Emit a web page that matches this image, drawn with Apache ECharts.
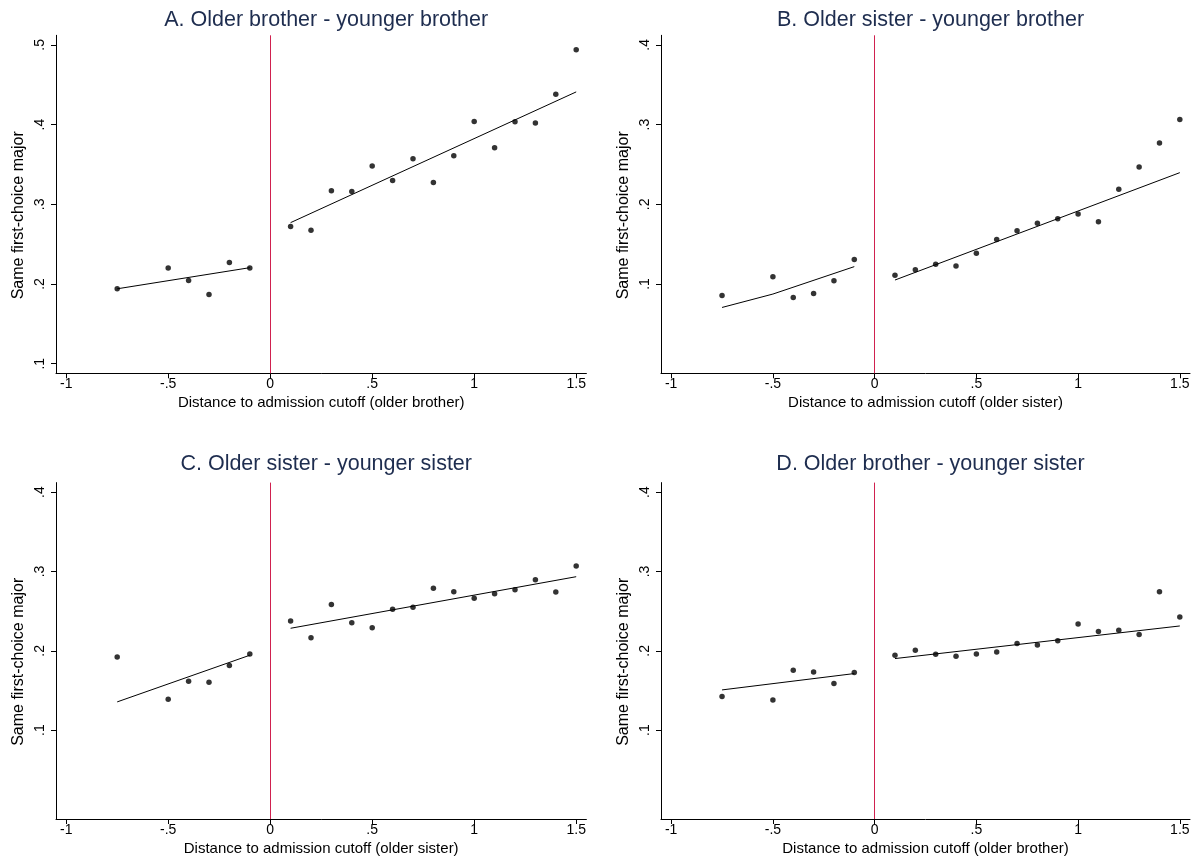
<!DOCTYPE html>
<html>
<head>
<meta charset="utf-8">
<script src="https://cdn.jsdelivr.net/npm/echarts@6/dist/echarts.min.js"></script>
<style>
html,body{margin:0;padding:0;background:#fff;}
#chart{width:1196px;height:857px;}
</style>
</head>
<body>
<div id="chart"></div>
<script>
// ---- data ----
const panelTitles = [
  'A. Older brother - younger brother',
  'B. Older sister - younger brother',
  'C. Older sister - younger sister',
  'D. Older brother - younger sister'
];
const xAxisTitles = [
  'Distance to admission cutoff (older brother)',
  'Distance to admission cutoff (older sister)',
  'Distance to admission cutoff (older sister)',
  'Distance to admission cutoff (older brother)'
];
const yAxisTitle = 'Same first-choice major';

const binX = [-0.75, -0.5, -0.4, -0.3, -0.2, -0.1, 0.1, 0.2, 0.3, 0.4, 0.5, 0.6, 0.7, 0.8, 0.9, 1.0, 1.1, 1.2, 1.3, 1.4, 1.5];

const meansA = [0.194, 0.220, 0.2045, 0.187, 0.227, 0.220, 0.272, 0.2675, 0.317, 0.316, 0.348, 0.330, 0.357, 0.3275, 0.361, 0.404, 0.371, 0.4035, 0.402, 0.438, 0.494];
const meansB = [0.0857, 0.109, 0.083, 0.088, 0.104, 0.1306, 0.111, 0.118, 0.1247, 0.1226, 0.1386, 0.156, 0.1667, 0.1763, 0.182, 0.1877, 0.178, 0.219, 0.2468, 0.277, 0.3064];
const meansC = [0.1923, 0.139, 0.1616, 0.1604, 0.1814, 0.196, 0.2376, 0.2166, 0.2582, 0.2355, 0.2292, 0.2523, 0.2548, 0.2787, 0.2745, 0.2661, 0.272, 0.277, 0.2896, 0.2741, 0.3068];
const meansD = [0.1423, 0.1381, 0.1755, 0.1734, 0.1587, 0.1726, 0.1944, 0.2007, 0.1956, 0.1931, 0.196, 0.1986, 0.2091, 0.2074, 0.2128, 0.2338, 0.2242, 0.2259, 0.2204, 0.2745, 0.2426];

// fitted lines: [x, y]
const fitLeftA  = [[-0.75, 0.194], [-0.1, 0.2205]];
const fitRightA = [[0.1, 0.277], [1.5, 0.441]];
const fitLeftB  = [[-0.75, 0.0706], [-0.5, 0.0874], [-0.1, 0.1218]];
const fitRightB = [[0.1, 0.105], [1.5, 0.2397]];
const fitLeftC  = [[-0.75, 0.1356], [-0.1, 0.1944]];
const fitRightC = [[0.1, 0.2284], [1.5, 0.2934]];
const fitLeftD  = [[-0.75, 0.1507], [-0.1, 0.1713]];
const fitRightD = [[0.1, 0.1902], [1.5, 0.2313]];

const cutoff = 0;

const xTickValues = [-1, -0.5, 0, 0.5, 1, 1.5];
const xTickLabels = ['-1', '-.5', '0', '.5', '1', '1.5'];
const yTickValuesA = [0.1, 0.2, 0.3, 0.4, 0.5];
const yTickLabelsA = ['.1', '.2', '.3', '.4', '.5'];
const yTickValuesB = [0.1, 0.2, 0.3, 0.4];
const yTickLabelsB = ['.1', '.2', '.3', '.4'];

// ---- layout ----
const FONT = '"Liberation Sans", Arial, sans-serif';
const grids = [
  {left: 56,  top: 35.3,  width: 530.4, height: 338},
  {left: 661, top: 35.3,  width: 529,   height: 338},
  {left: 56,  top: 482.6, width: 530.4, height: 337},
  {left: 661, top: 482.6, width: 529,   height: 337}
];
const titleTops = [4, 4, 448, 448];
const yRanges = [[0.088, 0.512], [-0.012, 0.412], [-0.012, 0.412], [-0.012, 0.412]];
const means = [meansA, meansB, meansC, meansD];
const fitsL = [fitLeftA, fitLeftB, fitLeftC, fitLeftD];
const fitsR = [fitRightA, fitRightB, fitRightC, fitRightD];
const yTickVals = [yTickValuesA, yTickValuesB, yTickValuesB, yTickValuesB];
const yTickLabs = [yTickLabelsA, yTickLabelsB, yTickLabelsB, yTickLabelsB];

function labelMap(vals, labs) {
  return function (v) {
    for (let i = 0; i < vals.length; i++) if (Math.abs(vals[i] - v) < 1e-9) return labs[i];
    return '';
  };
}

const axisLineStyle = {color: '#000', width: 1};
const option = {
  backgroundColor: '#fff',
  animation: false,
  title: grids.map((g, i) => ({
    text: panelTitles[i],
    left: g.left + g.width / 2,
    top: titleTops[i],
    textAlign: 'center',
    textStyle: {fontFamily: FONT, fontSize: 21.5, fontWeight: 'normal', color: '#1e2d4f'}
  })),
  grid: grids.map(g => Object.assign({containLabel: false}, g)),
  xAxis: grids.map((g, i) => ({
    type: 'value', gridIndex: i, min: -1.05, max: 1.55,
    name: xAxisTitles[i], nameLocation: 'middle', nameGap: 22,
    nameTextStyle: {fontFamily: FONT, fontSize: 15, color: '#000'},
    axisLine: {show: true, onZero: false, lineStyle: axisLineStyle},
    axisTick: {show: true, length: 5, inside: false, customValues: xTickValues, lineStyle: axisLineStyle},
    axisLabel: {show: true, margin: 4, customValues: xTickValues, formatter: labelMap(xTickValues, xTickLabels),
      fontFamily: FONT, fontSize: 14, color: '#000'},
    splitLine: {show: false}
  })),
  yAxis: grids.map((g, i) => ({
    type: 'value', gridIndex: i, min: yRanges[i][0], max: yRanges[i][1],
    name: yAxisTitle, nameLocation: 'middle', nameGap: 29, nameRotate: 90,
    nameTextStyle: {fontFamily: FONT, fontSize: 16, color: '#000', padding: [0, 22, 0, 0]},
    axisLine: {show: true, onZero: false, lineStyle: axisLineStyle},
    axisTick: {show: true, length: 5, inside: false, customValues: yTickVals[i], lineStyle: axisLineStyle},
    axisLabel: {show: true, margin: 9, rotate: 90, customValues: yTickVals[i], formatter: labelMap(yTickVals[i], yTickLabs[i]),
      fontFamily: FONT, fontSize: 14, color: '#000'},
    splitLine: {show: false}
  })),
  series: []
};

for (let i = 0; i < 4; i++) {
  option.series.push({
    type: 'scatter', xAxisIndex: i, yAxisIndex: i,
    data: binX.map((x, k) => [x, means[i][k]]),
    symbol: 'circle', symbolSize: 5.5,
    itemStyle: {color: '#000'},
    z: 5,
    markLine: {
      silent: true, symbol: ['none', 'none'], label: {show: false},
      lineStyle: {color: '#d0214f', width: 1, type: 'solid'},
      data: [{xAxis: cutoff}]
    }
  });
  [fitsL[i], fitsR[i]].forEach(f => {
    option.series.push({
      type: 'line', xAxisIndex: i, yAxisIndex: i, data: f,
      symbol: 'none', lineStyle: {color: '#000', width: 1}, z: 4
    });
  });
}

const chart = echarts.init(document.getElementById('chart'), null, {renderer: 'canvas'});
chart.setOption(option);
</script>
</body>
</html>
